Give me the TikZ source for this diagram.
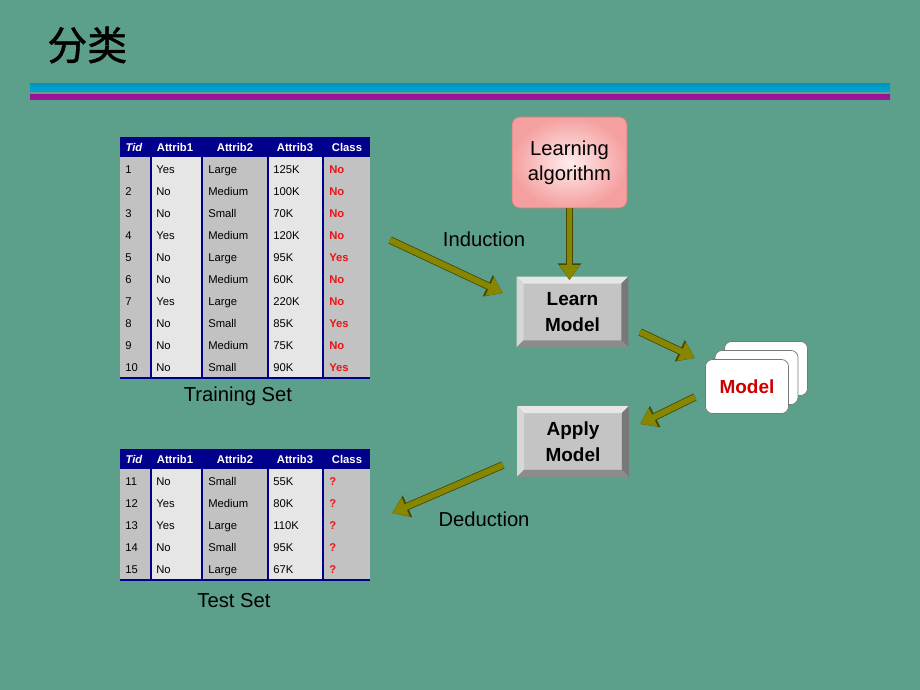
\documentclass[tikz,border=0pt]{standalone}
\usepackage{fontspec}
\setmainfont{Liberation Sans}
\newfontfamily\cjkfont[FakeBold=1.2]{Noto Sans CJK SC}
\usetikzlibrary{arrows.meta,positioning}

\definecolor{slidebg}{RGB}{92,160,140}
\definecolor{hdrblue}{RGB}{0,0,140}
\definecolor{cellgray}{RGB}{194,194,194}
\definecolor{celllight}{RGB}{230,230,230}
\definecolor{clsred}{RGB}{235,20,20}
\definecolor{flowolive}{RGB}{134,134,0}
\definecolor{flowedge}{RGB}{70,70,0}
\definecolor{btnface}{RGB}{196,196,196}
\definecolor{btnlight}{RGB}{230,230,230}
\definecolor{btnleft}{RGB}{215,215,215}
\definecolor{btndark}{RGB}{140,140,140}
\definecolor{btnright}{RGB}{120,120,120}
\definecolor{modelred}{RGB}{205,0,0}

% bevel edges round a button node
\newcommand\bevel[1]{%
  \fill[btnlight] (#1.north west) -- (#1.north east) -- ([shift={(-7,7)}]#1.north east) -- ([shift={(7,7)}]#1.north west) -- cycle;
  \fill[btnleft] (#1.north west) -- ([shift={(7,7)}]#1.north west) -- ([shift={(7,-7)}]#1.south west) -- (#1.south west) -- cycle;
  \fill[btndark] (#1.south west) -- ([shift={(7,-7)}]#1.south west) -- ([shift={(-7,-7)}]#1.south east) -- (#1.south east) -- cycle;
  \fill[btnright] (#1.north east) -- (#1.south east) -- ([shift={(-7,-7)}]#1.south east) -- ([shift={(-7,7)}]#1.north east) -- cycle;
}

\begin{document}
\begin{tikzpicture}[x=0.2mm, y=-0.2mm,
  cell/.style={anchor=west, inner sep=0pt, text height=4.6pt, text depth=1.3pt, font=\fontsize{6.4}{7}\selectfont},
  clsyes/.style={cell, text=clsred, font=\fontsize{6.4}{7}\selectfont\bfseries},
  hdr/.style={inner sep=0pt, text height=4.6pt, text depth=1.3pt, text=white, font=\fontsize{6.4}{7}\selectfont\bfseries},
  caption/.style={inner sep=0pt, font=\fontsize{11.5}{14}\selectfont},
  algbox/.style={rounded corners=4.5pt, draw={rgb,255:red,215;green,120;blue,120}, shading=radial,
    inner color={rgb,255:red,255;green,236;blue,236}, outer color={rgb,255:red,245;green,160;blue,160},
    minimum width=23mm, minimum height=18.2mm, align=center, font=\fontsize{11.5}{14}\selectfont},
  button/.style={fill=btnface, minimum width=22.2mm, minimum height=14mm, inner sep=0pt,
    align=center, font=\fontsize{10.8}{14.6}\selectfont\bfseries},
  card/.style={fill=white, draw={rgb,255:red,120;green,120;blue,120}, rounded corners=4pt,
    minimum width=16.6mm, minimum height=10.8mm},
  flow/.style={draw=flowolive, line width=3.4pt, -{Triangle[length=8.5pt,width=11pt]},
    preaction={draw=flowedge, line width=4.3pt, -{Triangle[length=9.6pt,width=12.8pt]}}}]

\fill[slidebg] (0,0) rectangle (920,690);

% title and rules
\node[anchor=west, inner sep=0pt, font=\cjkfont\fontsize{22.7}{26}\selectfont] (title) at (47,45) {分类};
\shade[top color={rgb,255:red,0;green,150;blue,195}, middle color={rgb,255:red,45;green,210;blue,235},
  bottom color={rgb,255:red,0;green,165;blue,205}] (30,84) rectangle (890,92);
\shade[top color={rgb,255:red,150;green,20;blue,150}, middle color={rgb,255:red,235;green,30;blue,235},
  bottom color={rgb,255:red,160;green,20;blue,160}] (30,95) rectangle (890,100);

% training set
\foreach \xa/\xb/\c in {120/151/cellgray,151/202/celllight,202/268/cellgray,268/323/celllight,323/370/cellgray}
  \fill[\c] (\xa,157) rectangle (\xb,378);
\fill[hdrblue] (120,137) rectangle (370,157);
\foreach \xs in {151,202,268,323}
  \draw[hdrblue, line width=0.6pt] (\xs,157) -- (\xs,378);
\draw[hdrblue, line width=0.8pt] (120,378) -- (370,378);
\node[hdr, font=\fontsize{6.4}{7}\selectfont\bfseries\itshape] (trh1) at (134,149) {Tid};
\foreach \h/\xc [count=\j from 2] in {Attrib1/175,Attrib2/235,Attrib3/295,Class/347}
  \node[hdr] (trh\j) at (\xc,149) {\h};
\foreach \t/\a/\b/\c/\k [count=\i] in {1/Yes/Large/125K/No, 2/No/Medium/100K/No, 3/No/Small/70K/No,
    4/Yes/Medium/120K/No, 5/No/Large/95K/Yes, 6/No/Medium/60K/No, 7/Yes/Large/220K/No,
    8/No/Small/85K/Yes, 9/No/Medium/75K/No, 10/No/Small/90K/Yes}{
  \node[cell] (tr-\i-1) at (125,{148.5+22*\i}) {\t};
  \node[cell] (tr-\i-2) at (156,{148.5+22*\i}) {\a};
  \node[cell] (tr-\i-3) at (208,{148.5+22*\i}) {\b};
  \node[cell] (tr-\i-4) at (273,{148.5+22*\i}) {\c};
  \node[clsyes] (tr-\i-5) at (329,{148.5+22*\i}) {\k};
}
\node[caption] (trainset) at (238,396) {Training Set};

% test set
\foreach \xa/\xb/\c in {120/151/cellgray,151/202/celllight,202/268/cellgray,268/323/celllight,323/370/cellgray}
  \fill[\c] (\xa,469) rectangle (\xb,580);
\fill[hdrblue] (120,449) rectangle (370,469);
\foreach \xs in {151,202,268,323}
  \draw[hdrblue, line width=0.6pt] (\xs,469) -- (\xs,580);
\draw[hdrblue, line width=0.8pt] (120,580) -- (370,580);
\node[hdr, font=\fontsize{6.4}{7}\selectfont\bfseries\itshape] (teh1) at (134,461) {Tid};
\foreach \h/\xc [count=\j from 2] in {Attrib1/175,Attrib2/235,Attrib3/295,Class/347}
  \node[hdr] (teh\j) at (\xc,461) {\h};
\foreach \t/\a/\b/\c [count=\i] in {11/No/Small/55K, 12/Yes/Medium/80K, 13/Yes/Large/110K,
    14/No/Small/95K, 15/No/Large/67K}{
  \node[cell] (te-\i-1) at (125,{460.5+22*\i}) {\t};
  \node[cell] (te-\i-2) at (156,{460.5+22*\i}) {\a};
  \node[cell] (te-\i-3) at (208,{460.5+22*\i}) {\b};
  \node[cell] (te-\i-4) at (273,{460.5+22*\i}) {\c};
  \node[clsyes] (te-\i-5) at (329,{460.5+22*\i}) {?};
}
\node[caption] (testset) at (234,601) {Test Set};

% learning algorithm and buttons
\node[algbox] (alg) at (569.5,162.5) {Learning\\algorithm};
\node[button] (learn) at (572.5,312) {Learn\\Model};
\bevel{learn}
\node[button] (apply) at (573,441.5) {Apply\\Model};
\bevel{apply}

% model stack
\node[card] (m3) at (766,368.5) {};
\node[card] (m2) at (756.5,377.5) {};
\node[card, text=modelred, font=\fontsize{10.8}{13}\selectfont\bfseries] (m1) at (747,386.5) {Model};

% arrows
\coordinate (indA) at (390,240);
\coordinate (indB) at (503,293);
\coordinate (lmA) at (640,332);
\coordinate (lmB) at (695,358);
\coordinate (maA) at (695,397);
\coordinate (maB) at (640,424);
\coordinate (dedA) at (503,465);
\coordinate (dedB) at (392,513);
\draw[flow] (indA) -- (indB);
\draw[flow] (alg.south) -- ([yshift=-2]alg.south |- learn.north);
\draw[flow] (lmA) -- (lmB);
\draw[flow] (maA) -- (maB);
\draw[flow] (dedA) -- (dedB);
\node[caption] (ind) at (484,239) {Induction};
\node[caption] (ded) at (484,519) {Deduction};
\end{tikzpicture}
\end{document}
